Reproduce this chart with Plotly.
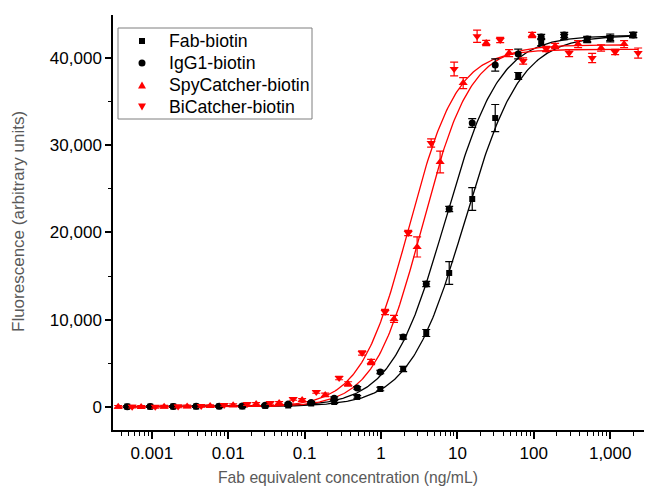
import numpy as np
import plotly.graph_objects as go

# ---- data ----
conc_black = [0.000477, 0.000954, 0.00191, 0.00381, 0.00763, 0.0153, 0.0305, 0.061,
              0.122, 0.244, 0.488, 0.977, 1.95, 3.91, 7.81, 15.63, 31.25, 62.5,
              125, 250, 500, 1000, 2000]
conc_spy = [0.000363, 0.000725, 0.00145, 0.0029, 0.0058, 0.0116, 0.0232, 0.0464,
            0.0928, 0.186, 0.371, 0.742, 1.48, 2.97, 5.94, 11.9, 23.8, 47.5,
            95, 190, 380, 760, 1520]
conc_bi = [0.000553, 0.00111, 0.00221, 0.00443, 0.00885, 0.0177, 0.0354, 0.0708,
           0.142, 0.283, 0.566, 1.13, 2.27, 4.53, 9.06, 18.1, 36.3, 72.5,
           145, 290, 580, 1160, 2320]

fab_y = [50, 40, 60, 50, 80, 60, 120, 170, 400, 570, 1150, 2060, 4360, 8480, 15360,
         23840, 33120, 37940, 41830, 42400, 42060, 42300, 42640]
fab_err = [100, 100, 100, 100, 100, 100, 100, 100, 100, 150, 150, 200, 300, 400, 1300,
           1300, 1550, 400, 400, 300, 300, 450, 300]
igg_y = [30, 50, 40, 70, 90, 110, 200, 340, 520, 1000, 2180, 4010, 8020, 14100, 22690,
         32550, 39200, 40460, 42400, 42640, 42180, 42300, 42640]
igg_err = [100, 100, 100, 100, 100, 100, 100, 100, 100, 150, 150, 200, 250, 300, 300,
           500, 700, 550, 300, 300, 300, 300, 300]
spy_y = [20, 10, 30, 60, 100, 200, 340, 460, 800, 1380, 2640, 5160, 10090, 18340, 28080,
         37130, 41720, 40570, 42640, 41380, 41600, 41150, 41600]
spy_err = [150, 150, 150, 150, 150, 150, 150, 150, 150, 200, 250, 300, 400, 1150, 1250,
           630, 300, 400, 300, 300, 400, 350, 400]
bi_y = [30, 20, 60, 115, 230, 340, 460, 920, 1720, 3320, 6190, 10890, 19940, 30260, 38740,
        42500, 42060, 39660, 41030, 40570, 40000, 40690, 40570]
bi_err = [150, 150, 150, 150, 150, 150, 150, 150, 150, 200, 250, 300, 300, 470, 780,
          700, 300, 350, 300, 400, 520, 300, 580]

# four-parameter logistic fit parameters: bottom, top, EC50, Hill slope
fab_fit = [50, 42600, 12.5, 1.2]
igg_fit = [50, 42600, 6.9, 1.23]
spy_fit = [0, 41500, 3.45, 1.38]
bi_fit = [0, 41000, 2.3, 1.38]

names = ["Fab-biotin", "IgG1-biotin", "SpyCatcher-biotin", "BiCatcher-biotin"]
colors = ["#000000", "#000000", "#FF0000", "#FF0000"]
symbols = ["square", "circle", "triangle-up", "triangle-down"]
sizes = [6, 7, 8, 8]

xs = [conc_black, conc_black, conc_spy, conc_bi]
ys = [fab_y, igg_y, spy_y, bi_y]
errs = [fab_err, igg_err, spy_err, bi_err]
fits = [fab_fit, igg_fit, spy_fit, bi_fit]

fig = go.Figure()

# fitted curves
for x, p, c in zip(xs, fits, colors):
    xx = np.logspace(np.log10(min(x)), np.log10(max(x)), 400)
    b, t, ec, h = p
    yy = b + (t - b) / (1 + (ec / xx) ** h)
    fig.add_trace(go.Scatter(x=xx, y=yy, mode="lines", line=dict(color=c, width=1.3),
                             showlegend=False, hoverinfo="skip"))

for x, y, e, n, c, s, sz in zip(xs, ys, errs, names, colors, symbols, sizes):
    fig.add_trace(go.Scatter(
        x=x, y=y, mode="markers", name=n, showlegend=False,
        marker=dict(symbol=s, size=sz, color=c, line=dict(width=0)),
        error_y=dict(type="data", array=e, color=c, thickness=1.2, width=4),
    ))

font = "Liberation Sans, Arial, sans-serif"
xr = [-3.508, 3.547]
major_x = [0.001, 0.01, 0.1, 1, 10, 100, 1000]
major_x_text = ["0.001", "0.01", "0.1", "1", "10", "100", "1,000"]
minor_x = [m * 10.0 ** d for d in range(-4, 4) for m in range(2, 10)]
minor_x = [v for v in minor_x if 10 ** xr[0] <= v <= 10 ** xr[1]]

# page has an 8px body margin; figure coordinates = screen coordinates - 8
OFF = 8
W, H = 652 - OFF, 487 - OFF
L, T, B = 113 - OFF, 15 - OFF, 57
pw, ph = W - L, H - T - B


def px(xs_):
    return (xs_ - OFF - L) / pw


def py(ys_):
    return (H - B - (ys_ - OFF)) / ph


# ---- legend drawn as layout shapes + text ----
leg_rows = [41, 63, 85, 107]
mx = 142
shapes = [dict(type="rect", xref="paper", yref="paper", x0=px(118), x1=px(312),
               y0=py(119), y1=py(28), fillcolor="white",
               line=dict(color="#7f7f7f", width=1), layer="above")]
annotations = []
for name, sym, col, ry in zip(names, symbols, colors, leg_rows):
    if sym == "square":
        shapes.append(dict(type="rect", xref="paper", yref="paper",
                           x0=px(mx - 3), x1=px(mx + 3), y0=py(ry + 3), y1=py(ry - 3),
                           fillcolor=col, line=dict(width=0), layer="above"))
    elif sym == "circle":
        shapes.append(dict(type="circle", xref="paper", yref="paper",
                           x0=px(mx - 3.5), x1=px(mx + 3.5), y0=py(ry + 3.5), y1=py(ry - 3.5),
                           fillcolor=col, line=dict(width=0), layer="above"))
    else:
        if sym == "triangle-up":
            pts = [(mx - 4, ry + 3.5), (mx + 4, ry + 3.5), (mx, ry - 3.5)]
        else:
            pts = [(mx - 4, ry - 3.5), (mx + 4, ry - 3.5), (mx, ry + 3.5)]
        path = "M " + " L ".join(f"{px(a):.5f},{py(b):.5f}" for a, b in pts) + " Z"
        shapes.append(dict(type="path", xref="paper", yref="paper", path=path,
                           fillcolor=col, line=dict(width=0), layer="above"))
    annotations.append(dict(text=name, xref="paper", yref="paper", x=px(167), y=py(ry),
                            xanchor="left", yanchor="middle", showarrow=False,
                            font=dict(size=17.7, color="black", family=font)))

annotations += [
    dict(text="Fab equivalent concentration (ng/mL)", xref="paper", yref="paper",
         x=px(348), y=py(477), xanchor="center", yanchor="middle",
         showarrow=False, font=dict(size=15.7, color="#595959", family=font)),
    dict(text="Fluorescence (arbitrary units)", xref="paper", yref="paper",
         x=px(19), y=py(222), xanchor="center", yanchor="middle",
         textangle=-90, showarrow=False, font=dict(size=17, color="#595959", family=font)),
]

fig.update_layout(
    width=W, height=H,
    margin=dict(l=L, r=0, t=T, b=B, autoexpand=False),
    plot_bgcolor="white", paper_bgcolor="white",
    font=dict(family=font, size=17, color="black"),
    showlegend=False,
    xaxis=dict(
        type="log", range=xr, showgrid=False, zeroline=False, automargin=False,
        showline=True, linecolor="black", linewidth=1.5, mirror=False,
        tickmode="array", tickvals=major_x, ticktext=major_x_text,
        ticks="outside", ticklen=7, tickwidth=1.5, tickcolor="black",
        minor=dict(tickmode="array", tickvals=minor_x, ticks="outside", ticklen=4,
                   tickwidth=1, tickcolor="black", showgrid=False),
        tickfont=dict(size=17),
    ),
    xaxis2=dict(
        type="log", range=xr, overlaying="x", side="top", anchor="y", automargin=False,
        showgrid=False, zeroline=False, showline=True, linecolor="black", linewidth=1.5,
        tickmode="array", tickvals=major_x, showticklabels=False,
        ticks="inside", ticklen=7, tickwidth=1.5, tickcolor="black",
        minor=dict(tickmode="array", tickvals=minor_x, ticks="inside", ticklen=4,
                   tickwidth=1, tickcolor="black", showgrid=False),
    ),
    yaxis=dict(
        range=[-2640, 44930], showgrid=False, zeroline=False, automargin=False,
        showline=True, linecolor="black", linewidth=1.5, mirror=False,
        tickmode="array", tickvals=[0, 10000, 20000, 30000, 40000],
        ticktext=["0", "10,000", "20,000", "30,000", "40,000"],
        ticks="outside", ticklen=6, tickwidth=1.5, tickcolor="black",
        minor=dict(tickmode="array", tickvals=[5000, 15000, 25000, 35000, 45000],
                   ticks="outside", ticklen=3, tickwidth=1, tickcolor="black", showgrid=False),
        tickfont=dict(size=17),
    ),
    shapes=shapes,
    annotations=annotations,
)

fig.write_html("out.html")
